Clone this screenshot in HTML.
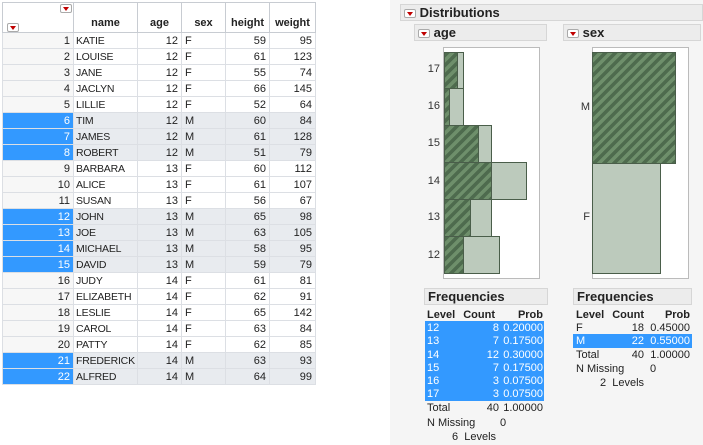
<!DOCTYPE html>
<html><head><meta charset="utf-8"><style>
*{margin:0;padding:0;box-sizing:border-box}
body{width:703px;height:445px;background:#fff;position:relative;overflow:hidden;font-family:"Liberation Sans",Arial,sans-serif;font-size:11px;color:#222}
.a{position:absolute}
table{position:absolute;left:2px;top:2px;width:313px;border-collapse:collapse;table-layout:fixed}
td{height:16px;border:1px solid #dcdfe4;padding:0 3px;white-space:nowrap;overflow:hidden;font-size:11px;line-height:14px}
td.nm{padding-left:2px;font-size:10.5px;letter-spacing:-0.2px}
td.r{text-align:right}
th{height:30px;border:1px solid #c8ccd2;vertical-align:bottom;padding-bottom:3px;font-size:11px;font-weight:bold;background:#fff}
td.n{background:#f7f7f7;text-align:right}
tr.s td{background:#e8ebef}
tr.s td.n{background:#3399ff;color:#fff}
.tri{display:inline-block;width:12px;height:9px;border:1px solid #aaa;border-radius:2px;background:#fff;position:relative;vertical-align:middle}
.tri:after{content:"";position:absolute;left:2px;top:2px;border-left:3px solid transparent;border-right:3px solid transparent;border-top:4px solid #c00000}
.hdr{position:absolute;background:#ececec;border:1px solid #d6d6d6;font-weight:bold;font-size:13px;line-height:15px;padding-left:3px}
.hatch{background:repeating-linear-gradient(135deg,#4e6b4e 0 3.5px,#6e8f6b 3.5px 7px);border:1px solid #4a5e4a}
.lt{background:#bccabc;border:1px solid #4a5e4a}
.lbl{position:absolute;font-size:11px;color:#333;text-align:right}
.ft{position:absolute;font-size:11px;line-height:13.3px}
</style></head><body>
<table>
<colgroup><col style="width:71px"><col style="width:64px"><col style="width:44px"><col style="width:44px"><col style="width:44px"><col style="width:46px"></colgroup>
<tr><th style="position:relative"><span class="tri" style="position:absolute;left:57px;top:1px"></span><span class="tri" style="position:absolute;left:4px;top:20px"></span></th><th>name</th><th>age</th><th>sex</th><th>height</th><th>weight</th></tr>
<tr><td class="n">1</td><td class="nm">KATIE</td><td class="r">12</td><td>F</td><td class="r">59</td><td class="r">95</td></tr>
<tr><td class="n">2</td><td class="nm">LOUISE</td><td class="r">12</td><td>F</td><td class="r">61</td><td class="r">123</td></tr>
<tr><td class="n">3</td><td class="nm">JANE</td><td class="r">12</td><td>F</td><td class="r">55</td><td class="r">74</td></tr>
<tr><td class="n">4</td><td class="nm">JACLYN</td><td class="r">12</td><td>F</td><td class="r">66</td><td class="r">145</td></tr>
<tr><td class="n">5</td><td class="nm">LILLIE</td><td class="r">12</td><td>F</td><td class="r">52</td><td class="r">64</td></tr>
<tr class="s"><td class="n">6</td><td class="nm">TIM</td><td class="r">12</td><td>M</td><td class="r">60</td><td class="r">84</td></tr>
<tr class="s"><td class="n">7</td><td class="nm">JAMES</td><td class="r">12</td><td>M</td><td class="r">61</td><td class="r">128</td></tr>
<tr class="s"><td class="n">8</td><td class="nm">ROBERT</td><td class="r">12</td><td>M</td><td class="r">51</td><td class="r">79</td></tr>
<tr><td class="n">9</td><td class="nm">BARBARA</td><td class="r">13</td><td>F</td><td class="r">60</td><td class="r">112</td></tr>
<tr><td class="n">10</td><td class="nm">ALICE</td><td class="r">13</td><td>F</td><td class="r">61</td><td class="r">107</td></tr>
<tr><td class="n">11</td><td class="nm">SUSAN</td><td class="r">13</td><td>F</td><td class="r">56</td><td class="r">67</td></tr>
<tr class="s"><td class="n">12</td><td class="nm">JOHN</td><td class="r">13</td><td>M</td><td class="r">65</td><td class="r">98</td></tr>
<tr class="s"><td class="n">13</td><td class="nm">JOE</td><td class="r">13</td><td>M</td><td class="r">63</td><td class="r">105</td></tr>
<tr class="s"><td class="n">14</td><td class="nm">MICHAEL</td><td class="r">13</td><td>M</td><td class="r">58</td><td class="r">95</td></tr>
<tr class="s"><td class="n">15</td><td class="nm">DAVID</td><td class="r">13</td><td>M</td><td class="r">59</td><td class="r">79</td></tr>
<tr><td class="n">16</td><td class="nm">JUDY</td><td class="r">14</td><td>F</td><td class="r">61</td><td class="r">81</td></tr>
<tr><td class="n">17</td><td class="nm">ELIZABETH</td><td class="r">14</td><td>F</td><td class="r">62</td><td class="r">91</td></tr>
<tr><td class="n">18</td><td class="nm">LESLIE</td><td class="r">14</td><td>F</td><td class="r">65</td><td class="r">142</td></tr>
<tr><td class="n">19</td><td class="nm">CAROL</td><td class="r">14</td><td>F</td><td class="r">63</td><td class="r">84</td></tr>
<tr><td class="n">20</td><td class="nm">PATTY</td><td class="r">14</td><td>F</td><td class="r">62</td><td class="r">85</td></tr>
<tr class="s"><td class="n">21</td><td class="nm">FREDERICK</td><td class="r">14</td><td>M</td><td class="r">63</td><td class="r">93</td></tr>
<tr class="s"><td class="n">22</td><td class="nm">ALFRED</td><td class="r">14</td><td>M</td><td class="r">64</td><td class="r">99</td></tr>
</table>

<div class="a" style="left:390px;top:0;width:313px;height:445px;background:#f5f5f5"></div>
<div class="hdr" style="left:400px;top:4px;width:303px;height:17px"><span class="tri"></span> Distributions</div>
<div class="hdr" style="left:414px;top:24px;width:133px;height:17px"><span class="tri"></span> age</div>
<div class="hdr" style="left:563px;top:24px;width:138px;height:17px"><span class="tri"></span> sex</div>

<div class="a" style="left:443px;top:47px;width:97px;height:232px;background:#fff;border:1px solid #bbb"></div>
<div class="a lt" style="left:444px;top:52px;width:20px;height:37px"></div><div class="a hatch" style="left:444px;top:52px;width:14px;height:37px"></div>
<div class="a lt" style="left:444px;top:88px;width:20px;height:38px"></div><div class="a hatch" style="left:444px;top:88px;width:6px;height:38px"></div>
<div class="a lt" style="left:444px;top:125px;width:48px;height:38px"></div><div class="a hatch" style="left:444px;top:125px;width:35px;height:38px"></div>
<div class="a lt" style="left:444px;top:162px;width:83px;height:38px"></div><div class="a hatch" style="left:444px;top:162px;width:48px;height:38px"></div>
<div class="a lt" style="left:444px;top:199px;width:48px;height:38px"></div><div class="a hatch" style="left:444px;top:199px;width:27px;height:38px"></div>
<div class="a lt" style="left:444px;top:236px;width:56px;height:38px"></div><div class="a hatch" style="left:444px;top:236px;width:20px;height:38px"></div>
<div class="lbl" style="left:420px;top:63px;width:20px">17</div>
<div class="lbl" style="left:420px;top:100px;width:20px">16</div>
<div class="lbl" style="left:420px;top:137px;width:20px">15</div>
<div class="lbl" style="left:420px;top:175px;width:20px">14</div>
<div class="lbl" style="left:420px;top:211px;width:20px">13</div>
<div class="lbl" style="left:420px;top:249px;width:20px">12</div>

<div class="a" style="left:592px;top:47px;width:97px;height:232px;background:#fff;border:1px solid #bbb"></div>
<div class="a hatch" style="left:592px;top:52px;width:84px;height:112px"></div>
<div class="a lt" style="left:592px;top:163px;width:69px;height:111px"></div>
<div class="lbl" style="left:570px;top:101px;width:20px">M</div>
<div class="lbl" style="left:570px;top:211px;width:20px">F</div>

<div class="hdr" style="left:424px;top:288px;width:124px;height:17px">Frequencies</div>
<div class="a" style="left:425px;top:321px;width:119px;height:80px;background:#3399ff"></div>
<div class="ft" style="left:427px;top:309px;width:118px;font-weight:bold"><span style="position:absolute;left:0">Level</span><span style="position:absolute;right:50px">Count</span><span style="position:absolute;right:2px">Prob</span></div>
<div class="ft" style="left:427px;top:322px;width:118px;color:#fff">
<div style="position:relative;height:13.3px"><span class="a" style="left:0">12</span><span class="a" style="right:46px">8</span><span class="a" style="right:2px">0.20000</span></div>
<div style="position:relative;height:13.3px"><span class="a" style="left:0">13</span><span class="a" style="right:46px">7</span><span class="a" style="right:2px">0.17500</span></div>
<div style="position:relative;height:13.3px"><span class="a" style="left:0">14</span><span class="a" style="right:46px">12</span><span class="a" style="right:2px">0.30000</span></div>
<div style="position:relative;height:13.3px"><span class="a" style="left:0">15</span><span class="a" style="right:46px">7</span><span class="a" style="right:2px">0.17500</span></div>
<div style="position:relative;height:13.3px"><span class="a" style="left:0">16</span><span class="a" style="right:46px">3</span><span class="a" style="right:2px">0.07500</span></div>
<div style="position:relative;height:13.3px"><span class="a" style="left:0">17</span><span class="a" style="right:46px">3</span><span class="a" style="right:2px">0.07500</span></div>
<div style="position:relative;height:13.3px;color:#222"><span class="a" style="left:0">Total</span><span class="a" style="right:46px">40</span><span class="a" style="right:2px">1.00000</span></div>
</div>
<div class="ft" style="left:427px;top:417px">N Missing</div><div class="ft" style="left:500px;top:417px">0</div>
<div class="ft" style="left:452px;top:431px">6&nbsp; Levels</div>

<div class="hdr" style="left:573px;top:288px;width:119px;height:17px">Frequencies</div>
<div class="a" style="left:573px;top:334px;width:119px;height:14px;background:#3399ff"></div>
<div class="ft" style="left:576px;top:309px;width:116px;font-weight:bold"><span style="position:absolute;left:0">Level</span><span style="position:absolute;right:48px">Count</span><span style="position:absolute;right:2px">Prob</span></div>
<div class="ft" style="left:576px;top:322px;width:116px">
<div style="position:relative;height:13.3px"><span class="a" style="left:0">F</span><span class="a" style="right:48px">18</span><span class="a" style="right:2px">0.45000</span></div>
<div style="position:relative;height:13.3px;color:#fff"><span class="a" style="left:0">M</span><span class="a" style="right:48px">22</span><span class="a" style="right:2px">0.55000</span></div>
<div style="position:relative;height:13.3px"><span class="a" style="left:0">Total</span><span class="a" style="right:48px">40</span><span class="a" style="right:2px">1.00000</span></div>
</div>
<div class="ft" style="left:576px;top:363px">N Missing</div><div class="ft" style="left:650px;top:363px">0</div>
<div class="ft" style="left:600px;top:377px">2&nbsp; Levels</div>
</body></html>
